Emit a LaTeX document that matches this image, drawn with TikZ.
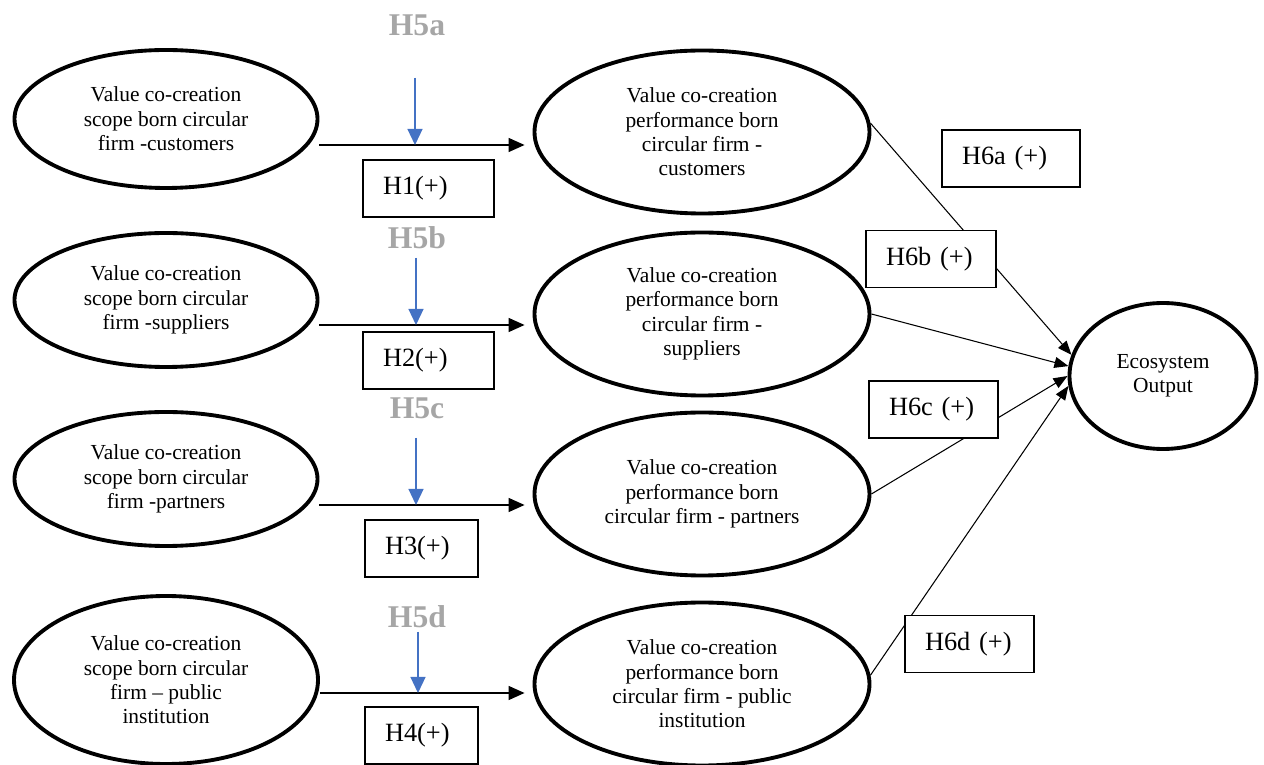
\documentclass[tikz,border=0pt]{standalone}
\usepackage{fontspec}
\setmainfont{Liberation Serif}
\usetikzlibrary{arrows.meta, shapes.geometric}
\definecolor{modgray}{RGB}{166,166,166}
\definecolor{modblue}{RGB}{68,114,196}

\begin{document}
\begin{tikzpicture}[
    x=0.2mm, y=-0.2mm,
    construct/.style={draw, ellipse, line width=2.2pt, align=center, inner sep=0pt, font=\fontsize{12.2}{13.9}\selectfont},
    hypo/.style={draw, line width=0.7pt, fill=white, minimum height=11.4mm, inner xsep=4mm, align=left, font=\fontsize{15}{18}\selectfont},
    modlabel/.style={text=modgray, font=\bfseries\fontsize{18}{20}\selectfont},
    flow/.style={-{Triangle[length=3.2mm, width=2.8mm]}, line width=0.8pt, shorten >=1.6mm},
    modflow/.style={-{Triangle[length=3.2mm, width=3mm]}, draw=modblue, fill=modblue, line width=0.7pt},
    link/.style={-{Triangle[length=2.8mm, width=2.2mm]}, line width=0.6pt},
]
    \useasboundingbox (0,0) rectangle (1264,765);

    % Scope constructs (left column)
    \node[construct, minimum width=60.6mm, minimum height=27.6mm] (scopeCus) at (166,119) {Value co-creation\\scope born circular\\firm -customers};
    \node[construct, minimum width=60.6mm, minimum height=26.8mm] (scopeSup) at (166,300) {Value co-creation\\scope born circular\\firm -suppliers};
    \node[construct, minimum width=60.6mm, minimum height=26.8mm] (scopePar) at (166,479) {Value co-creation\\scope born circular\\firm -partners};
    \node[construct, minimum width=60.8mm, minimum height=33.6mm] (scopePub) at (166,680) {Value co-creation\\scope born circular\\firm -- public\\institution};

    % Performance constructs (middle column)
    \node[construct, minimum width=67mm, minimum height=32.6mm] (perfCus) at (702,132) {Value co-creation\\performance born\\circular firm -\\customers};
    \node[construct, minimum width=67mm, minimum height=32.6mm] (perfSup) at (702,314) {Value co-creation\\performance born\\circular firm -\\suppliers};
    \node[construct, minimum width=67mm, minimum height=32.6mm] (perfPar) at (702,494) {Value co-creation\\performance born\\circular firm - partners};
    \node[construct, minimum width=67mm, minimum height=32.6mm] (perfPub) at (702,684) {Value co-creation\\performance born\\circular firm - public\\institution};

    % Outcome
    \node[construct, minimum width=37.4mm, minimum height=29.2mm] (eco) at (1163,376) {Ecosystem\\Output};

    % Direct paths H1--H4
    \coordinate (row1) at ([yshift=-5.2mm]scopeCus.east);
    \coordinate (row2) at ([yshift=-5mm]scopeSup.east);
    \coordinate (row3) at ([yshift=-5.2mm]scopePar.east);
    \coordinate (row4) at ([yshift=-2.6mm]scopePub.east);
    \draw[flow] (row1) -- (row1 -| perfCus.west);
    \draw[flow] (row2) -- (row2 -| perfSup.west);
    \draw[flow] (row3) -- (row3 -| perfPar.west);
    \draw[flow] (row4) -- (row4 -| perfPub.west);

    % Moderators H5a--H5d
    \node[modlabel] (h5a) at (417,25) {H5a};
    \node[modlabel] (h5b) at (417,238) {H5b};
    \node[modlabel] (h5c) at (417,408) {H5c};
    \node[modlabel] (h5d) at (417,617) {H5d};
    \coordinate (mod1) at (415,78);
    \coordinate (mod2) at (416,258);
    \coordinate (mod3) at (416,438);
    \coordinate (mod4) at (418,632);
    \draw[modflow] (mod1) -- (mod1 |- row1);
    \draw[modflow] (mod2) -- (mod2 |- row2);
    \draw[modflow] (mod3) -- (mod3 |- row3);
    \draw[modflow] (mod4) -- (mod4 |- row4);

    % Paths to ecosystem output H6a--H6d
    \draw[link] (perfCus.3) -- (eco.167);
    \draw[link] (perfSup.east) -- (eco.174);
    \draw[link] (perfPar.east) -- (eco.180);
    \draw[link] (perfPub.3) -- (eco.186);

    % Hypothesis boxes
    \node[hypo, text width=18.2mm] (h1) at (428.5,188.5) {H1(+)};
    \node[hypo, text width=18.2mm] (h2) at (428.5,360.5) {H2(+)};
    \node[hypo, text width=14.6mm] (h3) at (421.5,548.5) {H3(+)};
    \node[hypo, text width=14.6mm] (h4) at (421.5,735.5) {H4(+)};
    \node[hypo, text width=19.6mm] (h6a) at (1011,158.5) {H6a~(+)};
    \node[hypo, text width=18mm] (h6b) at (931,259) {H6b~(+)};
    \node[hypo, text width=17.8mm] (h6c) at (933.5,409.5) {H6c~(+)};
    \node[hypo, text width=17.8mm] (h6d) at (969.5,644) {H6d~(+)};
\end{tikzpicture}
\end{document}
